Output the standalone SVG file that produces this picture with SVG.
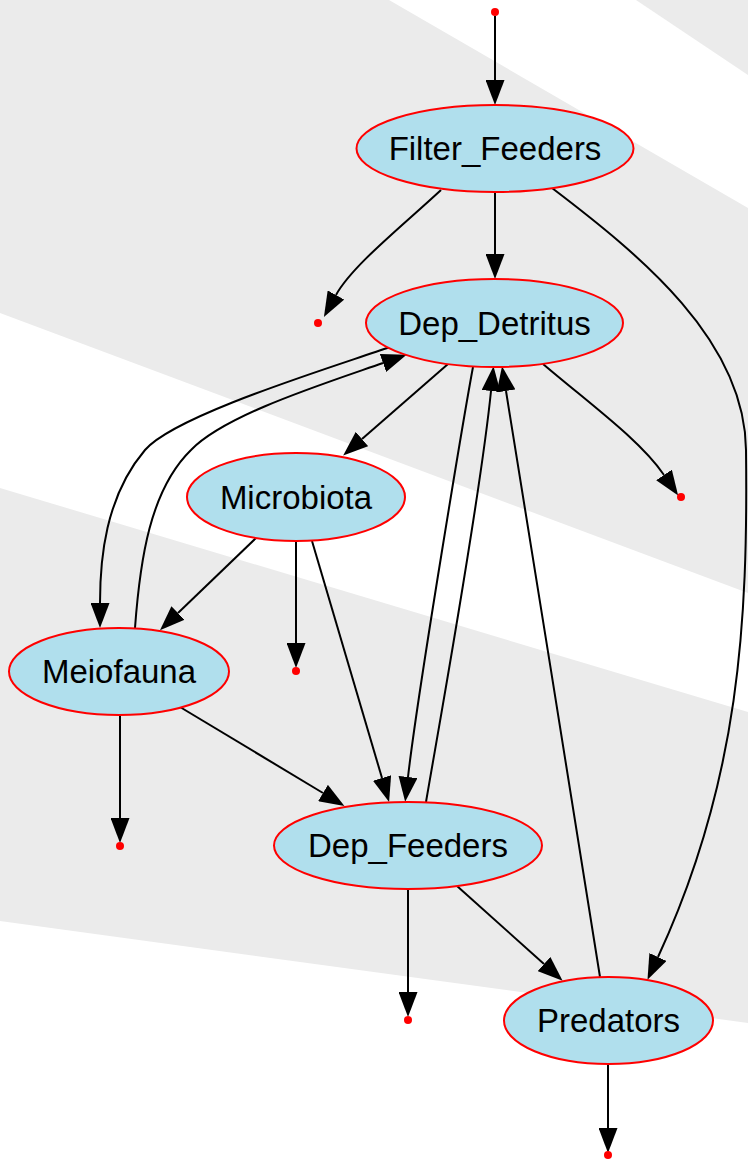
<svg xmlns="http://www.w3.org/2000/svg" width="748" height="1159" viewBox="0 0 748 1159">
<style>
.bg{fill:#ebebeb;stroke:none}
.node ellipse{fill:#b0dfed;stroke:#ff0000;stroke-width:2}
.node text{font-family:"Liberation Sans",Arial,sans-serif;font-size:33px;fill:#000;text-anchor:middle}
.pt{fill:#ff0000;stroke:none}
.edges path{fill:none;stroke:#000;stroke-width:2;marker-end:url(#arr)}
</style>
<defs>
<marker id="arr" viewBox="0 0 25 19" refX="0" refY="9.5" markerWidth="25" markerHeight="19" markerUnits="userSpaceOnUse" orient="auto">
<path d="M0,0 L25,9.5 L0,19 z" fill="#000"/>
</marker>
</defs>
<rect x="0" y="0" width="748" height="1159" fill="#ffffff"/>
<g id="background">
<polygon class="bg" points="0,0 389,0 748,208 748,593 0,313"/>
<polygon class="bg" points="636,0 748,0 748,75"/>
<polygon class="bg" points="0,488 748,712 748,1023 0,921"/>
</g>
<g id="edges" class="edges">
<path d="M495,16 L495,80"/>
<path d="M441,190 C400,228 352,266 336,295"/>
<path d="M495,192 L495,254"/>
<path d="M552,188 C640,255 745,340 746,450 C748,620 740,780 658,957"/>
<path d="M390,347 C330,368 175,415 145,450 C105,497 100,560 100,603"/>
<path d="M135,628 C140,560 150,490 191,450 C225,415 320,385 383,363"/>
<path d="M448,364 L362,439"/>
<path d="M543,364 C590,404 640,440 664,475"/>
<path d="M473,367 C465,410 418,690 408,777"/>
<path d="M426,802 C440,720 480,500 491,391"/>
<path d="M600,977 C580,850 530,540 506,391"/>
<path d="M256,538 L178,613"/>
<path d="M296,541 L296,643"/>
<path d="M312,541 L382,778"/>
<path d="M120,715 L120,818"/>
<path d="M180,707 L323,793"/>
<path d="M408,889 L408,992"/>
<path d="M457,886 L544,964"/>
<path d="M608,1064 L608,1128"/>
</g>
<g id="src_top"><circle class="pt" cx="495" cy="12" r="4"/></g>
<g id="sink_ff"><circle class="pt" cx="318" cy="323" r="4"/></g>
<g id="sink_dd"><circle class="pt" cx="681" cy="497" r="4"/></g>
<g id="sink_mb"><circle class="pt" cx="296" cy="671" r="4"/></g>
<g id="sink_mf"><circle class="pt" cx="120" cy="846" r="4"/></g>
<g id="sink_df"><circle class="pt" cx="408" cy="1020" r="4"/></g>
<g id="sink_pr"><circle class="pt" cx="608" cy="1155" r="4"/></g>
<g id="Filter_Feeders" class="node"><ellipse cx="495" cy="148.5" rx="138.5" ry="43.5"/><text x="495" y="160">Filter_Feeders</text></g>
<g id="Dep_Detritus" class="node"><ellipse cx="494.5" cy="323" rx="128.5" ry="44"/><text x="494.5" y="335">Dep_Detritus</text></g>
<g id="Microbiota" class="node"><ellipse cx="296" cy="497" rx="109" ry="44"/><text x="296" y="509">Microbiota</text></g>
<g id="Meiofauna" class="node"><ellipse cx="119" cy="671.5" rx="110" ry="43.5"/><text x="119" y="683">Meiofauna</text></g>
<g id="Dep_Feeders" class="node"><ellipse cx="408" cy="845.5" rx="134" ry="43.5"/><text x="408" y="857">Dep_Feeders</text></g>
<g id="Predators" class="node"><ellipse cx="608.5" cy="1020.5" rx="104.5" ry="43.5"/><text x="608.5" y="1032">Predators</text></g>
</svg>
